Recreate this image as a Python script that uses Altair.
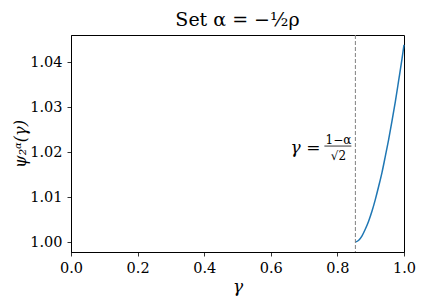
import altair as alt
import pandas as pd

# curve
gamma = [0.854, 0.864, 0.874, 0.884, 0.894, 0.904, 0.914, 0.924, 0.934,
         0.944, 0.954, 0.964, 0.974, 0.984, 0.994, 1.000]
psi = [1.0000, 1.0004, 1.0014, 1.0029, 1.0047, 1.0069, 1.0095, 1.0124, 1.0155,
       1.0191, 1.0228, 1.0269, 1.0312, 1.0359, 1.0407, 1.0438]

gamma_star = [0.854]          # (1 - alpha) / sqrt(2)
label_y = [1.02]
x_ticks = [0.0, 0.2, 0.4, 0.6, 0.8, 1.0]
y_ticks = [1.00, 1.01, 1.02, 1.03, 1.04]
x_domain = [0.0, 1.0]
y_domain = [0.9978, 1.0460]

FONT = "DejaVu Serif"
BLUE = "#1f77b4"

df = pd.DataFrame({"gamma": gamma, "psi": psi})
vdf = pd.DataFrame({"g": gamma_star, "y": label_y})

xs = alt.Scale(domain=x_domain, nice=False, zero=False)
ys = alt.Scale(domain=y_domain, nice=False, zero=False)

line = alt.Chart(df).mark_line(color=BLUE, strokeWidth=1.5, interpolate="monotone").encode(
    x=alt.X("gamma:Q", scale=xs,
            axis=alt.Axis(values=x_ticks, format=".1f", title="γ",
                          titleFontStyle="italic", titleY=39, titleFontSize=17,
                          titleBaseline="alphabetic", labelPadding=5)),
    y=alt.Y("psi:Q", scale=ys,
            axis=alt.Axis(values=y_ticks, format=".2f", title="ψ₂ᵅ(γ)",
                          titleFontStyle="italic", titleX=-51, titleY=108.5,
                          titleFontSize=16, titleAngle=270, titleAlign="center",
                          titleBaseline="middle", labelPadding=5)),
)

vline = alt.Chart(vdf).mark_rule(color="#808080", strokeDash=[4, 2], strokeWidth=1).encode(
    x=alt.X("g:Q", scale=xs)
)

base = alt.Chart(vdf).encode(
    x=alt.X("g:Q", scale=xs),
    y=alt.Y("y:Q", scale=ys),
)

lhs = base.mark_text(text="γ =", align="right", baseline="alphabetic", dx=-35, dy=1,
                     font=FONT, fontSize=17, fontStyle="italic", color="black")
num = base.mark_text(text="1−α", align="center", baseline="alphabetic", dx=-17, dy=-8,
                     font=FONT, fontSize=12, color="black")
den = base.mark_text(text="√2", align="center", baseline="alphabetic", dx=-17, dy=8,
                     font=FONT, fontSize=12, color="black")
bar = alt.Chart(vdf).mark_rule(color="black", strokeWidth=0.8,
                               xOffset=-31, x2Offset=-4, yOffset=-6).encode(
    x=alt.X("g:Q", scale=xs),
    x2="g:Q",
    y=alt.Y("y:Q", scale=ys),
)

chart = alt.layer(line, vline, lhs, num, den, bar).properties(
    width=333, height=217,
    autosize=alt.AutoSizeParams(type="none"),
    padding={"left": 63, "top": 27, "right": 12, "bottom": 45},
    title=alt.TitleParams("Set α = −½ρ", font=FONT, fontSize=19, fontWeight="normal",
                          color="black", anchor="middle", offset=5),
).configure_axis(
    labelFont=FONT, labelFontSize=14.5, labelColor="black",
    titleFont=FONT, titleColor="black", titleFontWeight="normal",
    domainColor="black", domainWidth=1, tickColor="black", tickWidth=0.8, tickSize=4,
    grid=False, labelFlush=False, labelOverlap=False,
).configure_view(stroke="black", strokeWidth=1)

chart.save("out.html", embed_options={"renderer": "svg", "actions": False})
